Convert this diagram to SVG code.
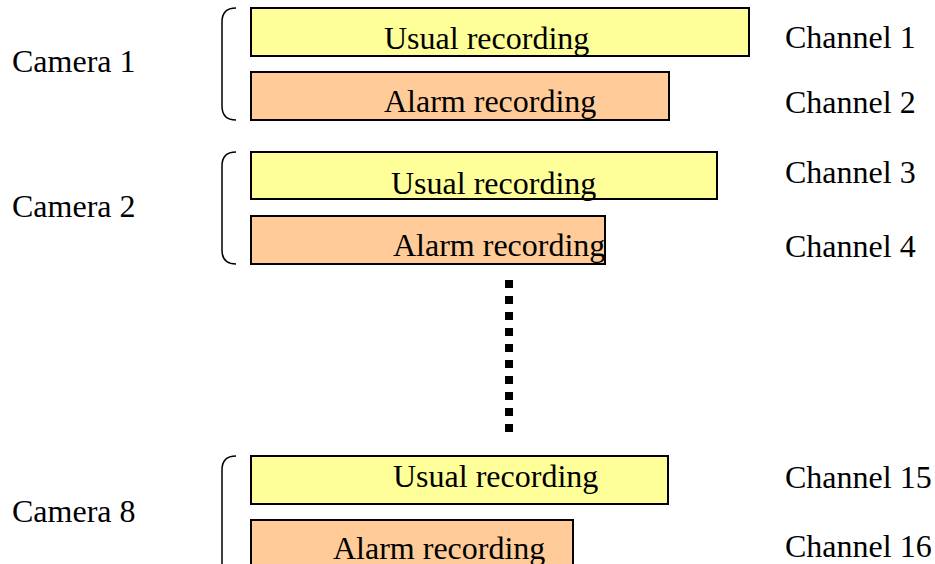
<svg xmlns="http://www.w3.org/2000/svg" width="935" height="564" viewBox="0 0 935 564">
<style>
text{font-family:'Liberation Serif','Times New Roman','DejaVu Serif',serif;font-size:32px;fill:#000}
.u{fill:#ffff99;stroke:#000;stroke-width:2}
.a{fill:#ffcc99;stroke:#000;stroke-width:2}
.br{fill:none;stroke:#000;stroke-width:1.5}
</style>
<rect width="935" height="564" fill="#fff"/>
<g id="camera1">
<text x="12" y="72">Camera 1</text>
<path class="br" d="M236,8 Q222,8 222,22 L222,106 Q222,120 236,120"/>
</g>
<g id="usual1"><rect class="u" x="251" y="8" width="498" height="48"/><text x="384" y="49">Usual recording</text></g>
<g id="alarm1"><rect class="a" x="251" y="72" width="418" height="48"/><text x="384" y="112">Alarm recording</text></g>
<g id="ch1"><text x="785" y="48">Channel 1</text></g>
<g id="ch2"><text x="785" y="113">Channel 2</text></g>
<g id="camera2">
<text x="12" y="217">Camera 2</text>
<path class="br" d="M236,152 Q222,152 222,166 L222,250 Q222,264 236,264"/>
</g>
<g id="usual2"><rect class="u" x="251" y="152" width="466" height="47"/><text x="391" y="194">Usual recording</text></g>
<g id="alarm2"><rect class="a" x="251" y="216" width="354" height="48"/><text x="393" y="256">Alarm recording</text></g>
<g id="ch3"><text x="785" y="183">Channel 3</text></g>
<g id="ch4"><text x="785" y="257">Channel 4</text></g>
<g id="connectors">
<line x1="509" y1="280" x2="509" y2="440" stroke="#000" stroke-width="8" stroke-dasharray="8 8"/>
</g>
<g id="camera8">
<text x="12" y="522">Camera 8</text>
<path class="br" d="M236,456 Q222,456 222,470 L222,564"/>
</g>
<g id="usual8"><rect class="u" x="251" y="456" width="417" height="48"/><text x="393" y="487">Usual recording</text></g>
<g id="alarm8"><rect class="a" x="251" y="520" width="322" height="50"/><text x="333" y="559">Alarm recording</text></g>
<g id="ch15"><text x="785" y="488">Channel 15</text></g>
<g id="ch16"><text x="785" y="557">Channel 16</text></g>
</svg>
